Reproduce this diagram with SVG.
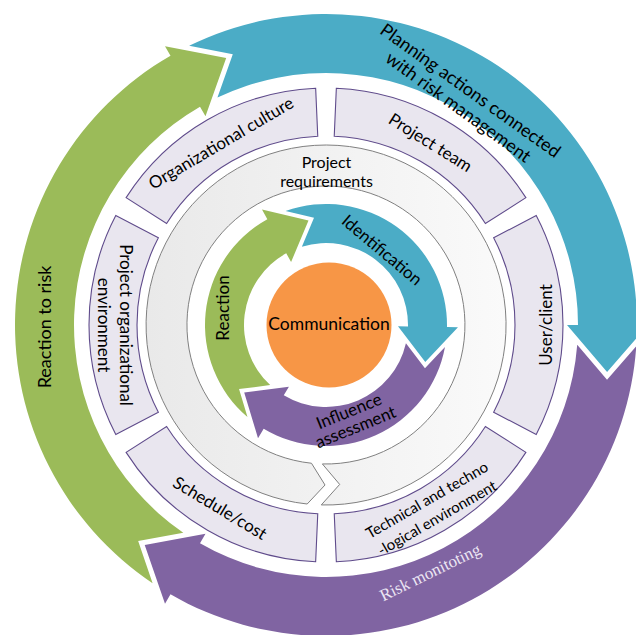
<svg xmlns="http://www.w3.org/2000/svg" width="636" height="635" viewBox="0 0 636 635">
<style>
.t{font-family:Lato,"Open Sans","Liberation Sans",sans-serif;fill:#000;text-anchor:middle}
.box{fill:url(#boxg);stroke:#5f4b8b;stroke-width:1.1}
.teal{fill:#4BACC6}.purple{fill:#8064A2}.green{fill:#9BBB59}
</style>
<defs>
<radialGradient id="boxg" gradientUnits="userSpaceOnUse" cx="326" cy="325" r="237">
<stop offset="0.78" stop-color="#f9f9fb"/><stop offset="1" stop-color="#e9e6ef"/>
</radialGradient>
<linearGradient id="ringg" x1="0" y1="0" x2="1" y2="0">
<stop offset="0" stop-color="#e9e9e9"/><stop offset="1" stop-color="#fafafa"/>
</linearGradient>
<path id="outerArrow" d="M-136.87,-279.25 A311,311 0 0 1 311,0 L322,0 L281.09,47.04 L241,0 L252,0 A252,252 0 0 0 -108.54,-227.43 L-93.21,-270.70 Z"/>
<path id="innerArrow" d="M-42.43,-113.32 A121,121 0 0 1 121,0 L132,0 L99.92,35.38 L72,0 L82,0 A82,82 0 0 0 -25.49,-77.94 L-13.86,-107.11 Z"/>
<path id="seg" d="M210.22,-109.43 A237,237 0 0 1 210.22,109.43 L167.64,87.27 A189,189 0 0 0 167.64,-87.27 Z"/>
</defs>
<rect width="636" height="635" fill="#fff"/>
<g id="connectors">
<g id="outer-arrows" transform="translate(326,325)">
<use href="#outerArrow" class="teal"/>
<use href="#outerArrow" class="purple" transform="rotate(120)"/>
<use href="#outerArrow" class="green" transform="rotate(240)"/>
</g>
<g id="inner-arrows" transform="translate(326,325)">
<use href="#innerArrow" class="teal" transform="rotate(1)"/>
<use href="#innerArrow" class="purple" transform="rotate(121)"/>
<use href="#innerArrow" class="green" transform="rotate(241)"/>
</g>
</g>
<g id="boxes" transform="translate(326,325)">
<g id="user-client"><use href="#seg" class="box"/></g>
<g id="technical"><use href="#seg" class="box" transform="rotate(60)"/></g>
<g id="schedule-cost"><use href="#seg" class="box" transform="rotate(120)"/></g>
<g id="project-org-env"><use href="#seg" class="box" transform="rotate(180)"/></g>
<g id="org-culture"><use href="#seg" class="box" transform="rotate(240)"/></g>
<g id="project-team"><use href="#seg" class="box" transform="rotate(300)"/></g>
</g>
<g id="project-requirements">
<path transform="translate(326,325)" d="M-18.82,179.01 A180,180 0 1 1 -4.71,179.94 L13.67,159.42 L-3.64,138.95 A139,139 0 1 0 -14.53,138.24 L-0.98,160 Z" fill="url(#ringg)" stroke="#808080" stroke-width="1"/>
<text class="t" font-size="16" x="326.5" y="162" dy="0.35em">Project</text>
<text class="t" font-size="16" x="326.5" y="181.5" dy="0.35em">requirements</text>
</g>
<g id="communication">
<circle cx="329" cy="325" r="62.5" fill="#F79646"/>
<text class="t" font-size="17.5" x="329" y="324" dy="0.35em">Communication</text>
</g>
<g id="labels">
<text class="t" font-size="18" transform="translate(470.5,90.5) rotate(35.5)" dy="0.35em">Planning actions connected</text>
<text class="t" font-size="18" transform="translate(458.5,107) rotate(36)" dy="0.35em">with risk management</text>
<text class="t" font-size="18" transform="translate(45,327) rotate(-90)" dy="0.35em">Reaction to risk</text>
<text font-family="'Liberation Serif',serif" font-size="17" fill="#ece6f4" text-anchor="middle" transform="translate(430,572) rotate(-26)" dy="0.35em">Risk monitoting</text>
<text class="t" font-size="17" transform="translate(430.5,142.5) rotate(32)" dy="0.35em">Project team</text>
<text class="t" font-size="17" transform="translate(546,325) rotate(-90)" dy="0.35em">User/client</text>
<text class="t" font-size="15" transform="translate(427,500) rotate(-30)" dy="0.35em">Technical and techno</text>
<text class="t" font-size="15" transform="translate(437,518) rotate(-30)" dy="0.35em">-logical environment</text>
<text class="t" font-size="17" transform="translate(220,508) rotate(31)" dy="0.35em">Schedule/cost</text>
<text class="t" font-size="17" transform="translate(126,325) rotate(90)" dy="0.35em">Project organizational</text>
<text class="t" font-size="17" transform="translate(104,325) rotate(90)" dy="0.35em">environment</text>
<text class="t" font-size="17" transform="translate(221,143) rotate(-30.5)" dy="0.35em">Organizational culture</text>
<text class="t" font-size="17" transform="translate(382,250) rotate(40)" dy="0.35em">Identification</text>
<text class="t" font-size="17" transform="translate(223,308) rotate(-90)" dy="0.35em">Reaction</text>
<text class="t" font-size="17" transform="translate(349,411) rotate(-22)" dy="0.35em">Influence</text>
<text class="t" font-size="17" transform="translate(355.5,427) rotate(-22)" dy="0.35em">assessment</text>
</g>
</svg>
